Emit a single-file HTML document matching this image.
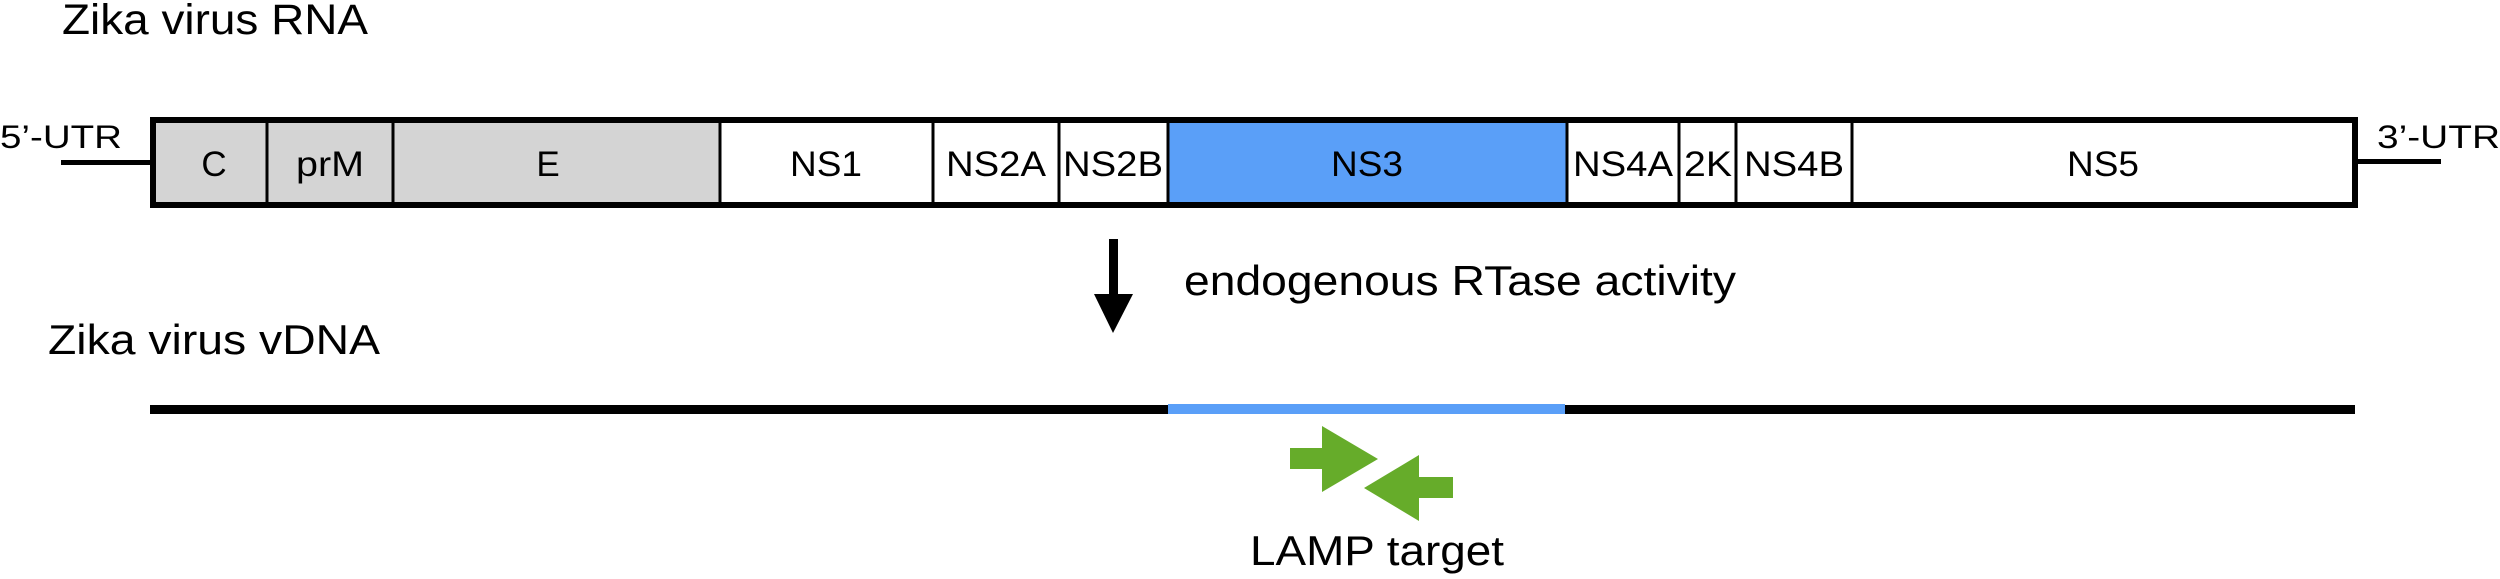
<!DOCTYPE html>
<html><head><meta charset="utf-8"><style>html,body{margin:0;padding:0;background:#fff}svg{display:block}</style></head><body>
<svg width="2500" height="579" viewBox="0 0 2500 579" xmlns="http://www.w3.org/2000/svg" font-family="Liberation Sans, sans-serif" fill="#000">
<text x="62" y="34" font-size="43" textLength="306" lengthAdjust="spacingAndGlyphs">Zika virus RNA</text>
<text x="0" y="148" font-size="32" textLength="122" lengthAdjust="spacingAndGlyphs">5’-UTR</text>
<text x="2377" y="148" font-size="32" textLength="123" lengthAdjust="spacingAndGlyphs">3’-UTR</text>
<rect x="61" y="160" width="92" height="5"/>
<rect x="2355" y="159" width="86" height="5"/>
<rect x="153" y="120" width="567" height="85" fill="#d4d4d4"/>
<rect x="1168" y="120" width="399" height="85" fill="#5a9ff8"/>
<rect x="153" y="120" width="2202" height="85" fill="none" stroke="#000" stroke-width="6"/>
<g stroke="#000" stroke-width="3">
<line x1="267" y1="120" x2="267" y2="205"/><line x1="393" y1="120" x2="393" y2="205"/>
<line x1="720" y1="120" x2="720" y2="205"/><line x1="933" y1="120" x2="933" y2="205"/>
<line x1="1059" y1="120" x2="1059" y2="205"/><line x1="1168" y1="120" x2="1168" y2="205"/>
<line x1="1567" y1="120" x2="1567" y2="205"/><line x1="1679" y1="120" x2="1679" y2="205"/>
<line x1="1736" y1="120" x2="1736" y2="205"/><line x1="1852" y1="120" x2="1852" y2="205"/>
</g>
<g font-size="35" text-anchor="middle">
<text x="214" y="176">C</text>
<text x="330" y="176" textLength="68" lengthAdjust="spacingAndGlyphs">prM</text>
<text x="548" y="176">E</text>
<text x="826" y="176" textLength="72" lengthAdjust="spacingAndGlyphs">NS1</text>
<text x="996" y="176" textLength="100" lengthAdjust="spacingAndGlyphs">NS2A</text>
<text x="1113" y="176" textLength="100" lengthAdjust="spacingAndGlyphs">NS2B</text>
<text x="1367" y="176" textLength="72" lengthAdjust="spacingAndGlyphs">NS3</text>
<text x="1623" y="176" textLength="100" lengthAdjust="spacingAndGlyphs">NS4A</text>
<text x="1708" y="176" textLength="48" lengthAdjust="spacingAndGlyphs">2K</text>
<text x="1794" y="176" textLength="100" lengthAdjust="spacingAndGlyphs">NS4B</text>
<text x="2103" y="176" textLength="72" lengthAdjust="spacingAndGlyphs">NS5</text>
</g>
<rect x="1109" y="239" width="9" height="57"/>
<polygon points="1094,294 1133,294 1113,333"/>
<text x="1184" y="295" font-size="42" textLength="552" lengthAdjust="spacingAndGlyphs">endogenous RTase activity</text>
<text x="48" y="354" font-size="42" textLength="332" lengthAdjust="spacingAndGlyphs">Zika virus vDNA</text>
<rect x="150" y="405" width="2205" height="9"/>
<rect x="1168" y="404" width="397" height="10" fill="#5a9ff8"/>
<polygon fill="#66ac2a" points="1290,448 1322,448 1322,426 1378,459 1322,492 1322,469 1290,469"/>
<polygon fill="#66ac2a" points="1453,477 1419,477 1419,455 1364,488 1419,521 1419,498 1453,498"/>
<text x="1250" y="565" font-size="42" textLength="254" lengthAdjust="spacingAndGlyphs">LAMP target</text>
</svg>
</body></html>
